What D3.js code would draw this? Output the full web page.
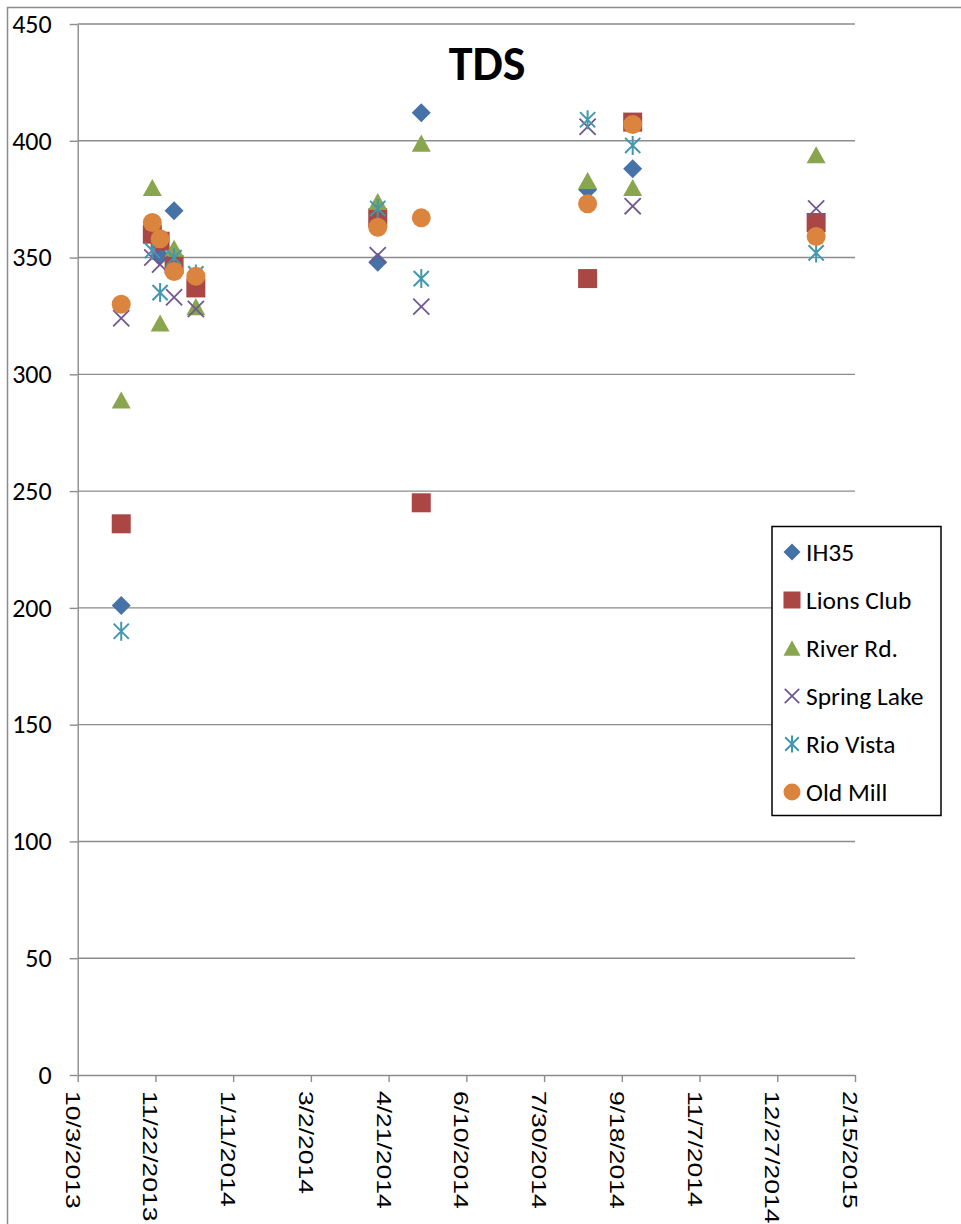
<!DOCTYPE html>
<html>
<head>
<meta charset="utf-8">
<script src="https://cdn.jsdelivr.net/npm/d3@7"></script>
<style>
  html, body { margin: 0; padding: 0; background: #fff; }
  svg { display: block; }
</style>
</head>
<body>
<svg id="chart" width="961" height="1224"></svg>
<script>
// Sampling dates (M/D/YYYY) shared by all sites
const sampleDates = ["10/31/2013", "11/20/2013", "11/25/2013", "12/4/2013", "12/18/2013",
                     "4/14/2014", "5/12/2014", "8/27/2014", "9/25/2014", "1/21/2015"];

// TDS readings per site (null = not sampled that day)
const ih35       = [201, null, 351, 370, null, 348, 412, 379, 388, null];
const lionsClub  = [236, 360, 357, 347, 337, 367, 245, 341, 408, 365];
const riverRd    = [289, 380, 322, 354, 329, 374, 399, 383, 380, 394];
const springLake = [324, 350, 347, 333, 328, 351, 329, 406, 372, 371];
const rioVista   = [190, 353, 335, 350, 343, 371, 341, 409, 398, 352];
const oldMill    = [330, 365, 358, 344, 342, 363, 367, 373, 407, 359];

const seriesNames = ["IH35", "Lions Club", "River Rd.", "Spring Lake", "Rio Vista", "Old Mill"];
const seriesValues = [ih35, lionsClub, riverRd, springLake, rioVista, oldMill];

// Axis ticks
const xTickLabels = ["10/3/2013", "11/22/2013", "1/11/2014", "3/2/2014", "4/21/2014", "6/10/2014",
                     "7/30/2014", "9/18/2014", "11/7/2014", "12/27/2014", "2/15/2015"];
const yTickValues = [0, 50, 100, 150, 200, 250, 300, 350, 400, 450];

const chartTitle = "TDS";

const colors = ["#4572A7", "#AA4643", "#89A54E", "#71588F", "#4198AF", "#DB843D"];
const shapes = ["diamond", "square", "triangle", "x", "star", "circle"];

const parseDate = d3.timeParse("%m/%d/%Y");
const xTicks = xTickLabels.map(parseDate);

const svg = d3.select("#chart");

// Outer chart frame
svg.append("rect")
  .attr("x", 7.5).attr("y", 7.5)
  .attr("width", 1000).attr("height", 1300)
  .attr("fill", "#fff")
  .attr("stroke", "#8c8c8c").attr("stroke-width", 1.5);

const plot = { left: 77.7, right: 855, top: 24, bottom: 1075 };

const x = d3.scaleTime()
  .domain([xTicks[0], xTicks[xTicks.length - 1]])
  .range([plot.left, plot.right]);
const y = d3.scaleLinear()
  .domain([0, 450])
  .range([plot.bottom, plot.top]);

// Horizontal gridlines
svg.append("g")
  .selectAll("line")
  .data(yTickValues.filter(v => v > 0))
  .join("line")
  .attr("x1", plot.left).attr("x2", plot.right)
  .attr("y1", d => y(d)).attr("y2", d => y(d))
  .attr("stroke", "#8c8c8c").attr("stroke-width", 1.4);

// Y axis
const yAxis = svg.append("g")
  .attr("transform", `translate(${plot.left},0)`)
  .call(d3.axisLeft(y).tickValues(yTickValues).tickSize(8).tickPadding(18).tickSizeOuter(0));
yAxis.select(".domain").attr("stroke", "#8c8c8c").attr("stroke-width", 1.4);
yAxis.selectAll(".tick line").attr("stroke", "#8c8c8c").attr("stroke-width", 1.4);
yAxis.selectAll(".tick text")
  .attr("font-family", "Carlito, Lato, sans-serif")
  .attr("font-size", 26)
  .attr("fill", "#000");

// X axis
const xAxis = svg.append("g")
  .attr("transform", `translate(0,${plot.bottom})`)
  .call(d3.axisBottom(x).tickValues(xTicks).tickSize(7).tickSizeOuter(0).tickFormat((d, i) => xTickLabels[i]));
xAxis.select(".domain").attr("stroke", "#8c8c8c").attr("stroke-width", 1.4);
xAxis.selectAll(".tick line").attr("stroke", "#8c8c8c").attr("stroke-width", 1.4);
xAxis.selectAll(".tick text")
  .attr("font-family", "'Liberation Sans', Arial, sans-serif")
  .attr("font-size", 21)
  .attr("fill", "#000")
  .attr("text-anchor", "start")
  .attr("dominant-baseline", "central")
  .attr("y", 0).attr("dy", 0)
  .attr("transform", "translate(-5,16) rotate(90) scale(1.26,1)");

// Marker drawing
function drawMarker(g, shape, color, s) {
  const h = s / 2;
  if (shape === "diamond") {
    g.append("path").attr("d", `M0,${-h}L${h},0L0,${h}L${-h},0Z`).attr("fill", color);
  } else if (shape === "square") {
    g.append("rect").attr("x", -h).attr("y", -h).attr("width", s).attr("height", s).attr("fill", color);
  } else if (shape === "triangle") {
    const th = s * 0.9;
    g.append("path").attr("d", `M0,${-th / 2}L${h},${th / 2}L${-h},${th / 2}Z`).attr("fill", color);
  } else if (shape === "circle") {
    g.append("circle").attr("r", h).attr("fill", color);
  } else if (shape === "x") {
    const a = h * 0.85;
    g.append("path").attr("d", `M${-a},${-a}L${a},${a}M${a},${-a}L${-a},${a}`)
      .attr("stroke", color).attr("stroke-width", 1.8).attr("fill", "none");
  } else if (shape === "star") {
    const a = h * 0.8;
    g.append("path").attr("d", `M${-a},${-a}L${a},${a}M${a},${-a}L${-a},${a}M0,${-h}L0,${h}`)
      .attr("stroke", color).attr("stroke-width", 2).attr("fill", "none");
  }
}

const markerSize = 19;
const parsedDates = sampleDates.map(parseDate);

seriesValues.forEach((vals, si) => {
  const pts = vals.map((v, i) => ({ date: parsedDates[i], value: v })).filter(p => p.value !== null);
  const g = svg.append("g").attr("class", "series");
  g.selectAll("g")
    .data(pts)
    .join("g")
    .attr("transform", d => `translate(${x(d.date)},${y(d.value)})`)
    .each(function () { drawMarker(d3.select(this), shapes[si], colors[si], markerSize); });
});

// Title
svg.append("text")
  .attr("x", 487).attr("y", 80)
  .attr("text-anchor", "middle")
  .attr("font-family", "Carlito, Lato, sans-serif")
  .attr("font-weight", "bold")
  .attr("font-size", 48)
  .attr("fill", "#000")
  .text(chartTitle);

// Legend
const legend = svg.append("g");
legend.append("rect")
  .attr("x", 772).attr("y", 526.5)
  .attr("width", 169).attr("height", 289)
  .attr("fill", "#fff").attr("stroke", "#000").attr("stroke-width", 1.5);

const legendRows = legend.selectAll("g.item")
  .data(seriesNames)
  .join("g")
  .attr("class", "item")
  .attr("transform", (d, i) => `translate(792,${552 + i * 48})`);
legendRows.each(function (d, i) { drawMarker(d3.select(this), shapes[i], colors[i], 17); });
legendRows.append("text")
  .attr("x", 14).attr("y", 0)
  .attr("dominant-baseline", "central")
  .attr("font-family", "Carlito, Lato, sans-serif")
  .attr("font-size", 25.5)
  .attr("fill", "#000")
  .text(d => d);
</script>
</body>
</html>
